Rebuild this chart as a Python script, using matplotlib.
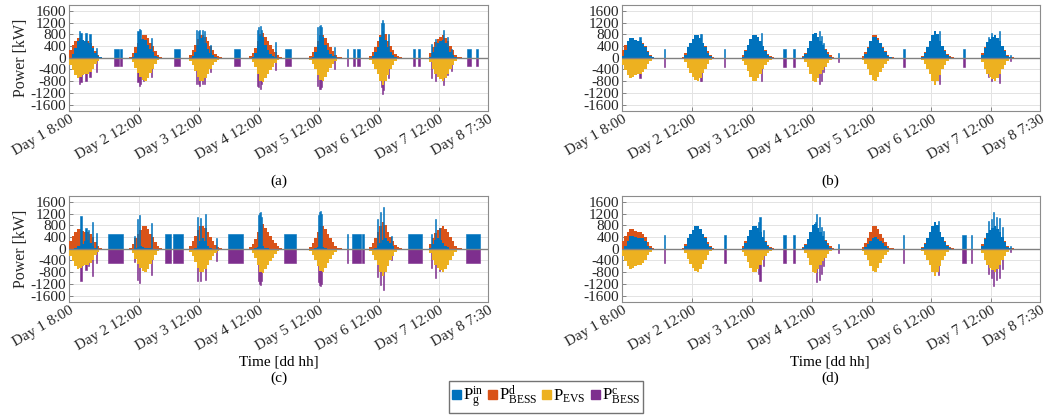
import numpy as np
import matplotlib.pyplot as plt
import matplotlib.transforms as mtransforms
from matplotlib.patches import Patch

plt.rcParams['font.family'] = 'Liberation Serif'
plt.rcParams['mathtext.fontset'] = 'custom'
plt.rcParams['mathtext.rm'] = 'Liberation Serif'
plt.rcParams['mathtext.it'] = 'Liberation Serif:italic'

C_GRID = '#0072BD'
C_BD = '#D95319'
C_EV = '#EDB120'
C_BC = '#7E2F8E'

# === DATA (kW, hourly blocks 8:00 ... 20:00 for each day) ===
hours = [8, 9, 10, 11, 12, 13, 14, 15, 16, 17, 18, 19, 20]

# EV demand, same in all cases
ev = [
    [-250, -420, -580, -680, -670, -600, -560, -570, -500, -400, -220, -100, -30],
    [-40, -150, -350, -520, -650, -760, -790, -680, -520, -400, -220, -90, -20],
    [-100, -250, -450, -650, -790, -780, -700, -560, -400, -250, -130, -60, -20],
    [-50, -150, -330, -560, -800, -840, -700, -560, -420, -300, -180, -80, -20],
    [-60, -200, -380, -580, -760, -780, -660, -500, -360, -220, -110, -40, -10],
    [-70, -200, -380, -560, -780, -920, -800, -580, -400, -250, -120, -50, -10],
    [-150, -380, -540, -650, -720, -780, -680, -560, -400, -250, -100, -30, -10],
]

# (a)
grid_a = [
    [0, 120, 330, 560, 640, 600, 560, 520, 440, 330, 150, 60, 10],
    [0, 30, 150, 350, 600, 650, 600, 450, 300, 200, 60, 20, 0],
    [0, 50, 200, 420, 680, 700, 500, 300, 150, 80, 20, 0, 0],
    [0, 30, 150, 400, 750, 700, 450, 250, 120, 60, 20, 0, 0],
    [0, 40, 200, 450, 750, 700, 450, 250, 120, 50, 10, 0, 0],
    [0, 50, 180, 380, 700, 850, 600, 350, 200, 100, 30, 0, 0],
    [30, 200, 380, 500, 560, 600, 500, 350, 200, 100, 20, 0, 0],
]
bessd_a = [
    [250, 300, 250, 120, 30, 0, 0, 50, 60, 70, 70, 40, 20],
    [40, 120, 200, 170, 50, 110, 190, 230, 220, 200, 160, 70, 20],
    [100, 200, 250, 230, 110, 80, 200, 260, 250, 170, 110, 60, 20],
    [50, 120, 180, 160, 50, 140, 250, 310, 300, 240, 160, 80, 20],
    [60, 160, 180, 130, 10, 80, 210, 250, 240, 170, 100, 40, 10],
    [70, 150, 200, 180, 80, 70, 200, 230, 200, 150, 90, 50, 10],
    [120, 180, 160, 150, 160, 180, 180, 210, 200, 150, 80, 30, 10],
]
spk_t_a = [12.3, 12.8, 14.8, 16.4, 19.1, 35.6, 36.1, 36.6, 37.7, 41.0,
           58.9, 59.6, 60.3, 61.3, 62.3, 64.5, 83.4, 83.9, 84.4, 84.9, 90.6,
           107.5, 108.0, 108.5, 109.0, 114.3, 132.8, 133.3, 133.8, 135.6,
           153.0, 154.6, 157.7, 159.3, 161.0]
spk_g_a = [920, 850, 840, 800, 330, 900, 970, 930, 620, 670,
           930, 900, 960, 940, 900, 450, 950, 1050, 1080, 950, 540,
           1050, 1100, 1130, 1050, 350, 1200, 1280, 1200, 800,
           480, 650, 950, 700, 300]
spk_c_a = [-900, -820, -780, -670, -500, -830, -950, -900, -800, -640,
           -880, -900, -950, -900, -880, -500, -950, -1000, -1060, -900, -420,
           -980, -1060, -1060, -1000, -400, -1000, -1240, -1100, -700,
           -680, -800, -920, -600, -460]
night_s_a = [26.0, 28.3, 50.0, 74.0, 94.4, 119.0, 121.7, 123.3, 145.7, 147.5, 167.0, 170.8]
night_e_a = [27.9, 29.3, 52.3, 76.3, 96.7, 119.5, 122.4, 124.2, 146.4, 148.4, 168.7, 171.7]
night_p_a = [290] * 12

# (b)
grid_b = [
    [60, 280, 580, 680, 670, 600, 560, 570, 460, 350, 180, 70, 10],
    [0, 110, 350, 520, 650, 760, 790, 680, 520, 380, 170, 50, 0],
    [40, 220, 450, 650, 790, 780, 700, 560, 400, 230, 90, 20, 0],
    [10, 130, 330, 560, 800, 840, 700, 560, 420, 280, 140, 40, 0],
    [0, 120, 330, 560, 700, 700, 620, 500, 340, 180, 60, 10, 0],
    [20, 170, 380, 560, 780, 920, 800, 580, 400, 230, 80, 20, 0],
    [80, 340, 540, 650, 720, 780, 680, 560, 400, 230, 70, 10, 0],
]
bessd_b = [
    [190, 140, 0, 0, 0, 0, 0, 0, 40, 50, 40, 30, 20],
    [40, 40, 0, 0, 0, 0, 0, 0, 0, 20, 50, 40, 20],
    [60, 30, 0, 0, 0, 0, 0, 0, 0, 20, 40, 40, 20],
    [40, 20, 0, 0, 0, 0, 0, 0, 0, 20, 40, 40, 20],
    [60, 80, 50, 20, 60, 80, 40, 0, 20, 40, 50, 30, 10],
    [50, 30, 0, 0, 0, 0, 0, 0, 0, 20, 40, 30, 10],
    [70, 40, 0, 0, 0, 0, 0, 0, 0, 20, 30, 20, 10],
]
spk_t_b = [15.2, 39.3, 39.9, 64.0, 87.1, 88.0, 88.9, 135.1, 154.8, 156.1, 157.4, 159.4]
spk_g_b = [720, 800, 820, 830, 900, 750, 500, 900, 700, 850, 760, 900]
spk_c_b = [-690, -780, -790, -810, -890, -780, -490, -890, -640, -780, -720, -870]
night_s_b = [24.7, 48.8, 72.5, 76.6, 94.5, 120.8, 144.6, 163.3]
night_e_b = [25.2, 49.3, 73.6, 77.3, 95.1, 121.3, 145.3, 163.9]
night_p_b = [300, 300, 300, 300, 150, 300, 300, 100]

# (c)
grid_c = [
    [0, 0, 30, 80, 100, 150, 250, 300, 200, 80, 30, 0, 0],
    [0, 0, 20, 50, 80, 50, 30, 30, 20, 0, 0, 0, 0],
    [0, 0, 30, 100, 250, 350, 250, 100, 30, 0, 0, 0, 0],
    [0, 0, 30, 60, 100, 80, 40, 20, 0, 0, 0, 0, 0],
    [0, 0, 30, 60, 80, 60, 30, 0, 0, 0, 0, 0, 0],
    [0, 0, 20, 80, 200, 300, 350, 250, 200, 100, 0, 0, 0],
    [20, 150, 300, 350, 300, 200, 100, 50, 0, 0, 0, 0, 0],
]
bessd_c = [
    [250, 420, 550, 600, 570, 450, 310, 270, 300, 320, 190, 100, 30],
    [40, 150, 330, 470, 570, 710, 760, 650, 500, 400, 220, 90, 20],
    [100, 250, 420, 550, 540, 430, 450, 460, 370, 250, 130, 60, 20],
    [50, 150, 300, 500, 700, 760, 660, 540, 420, 300, 180, 80, 20],
    [60, 200, 350, 520, 680, 720, 630, 500, 360, 220, 110, 40, 10],
    [70, 200, 360, 480, 580, 620, 450, 330, 200, 150, 120, 50, 10],
    [130, 230, 240, 300, 420, 580, 580, 510, 400, 250, 100, 30, 10],
]
spk_t_c = [12.8, 14.8, 15.7, 17.5, 19.1, 34.2, 35.5, 36.1, 41.1,
           59.3, 60.7, 62.7, 66.9, 83.6, 84.1, 84.6, 85.1,
           107.6, 108.1, 108.6, 109.1, 131.5, 132.4, 133.7, 136.8,
           153.0, 154.4, 156.0]
spk_g_c = [1120, 720, 640, 925, 550, 420, 1000, 1150, 870,
           1100, 1050, 1180, 380, 1150, 1230, 1250, 1100,
           1150, 1250, 1280, 1200, 1000, 1260, 1430, 450,
           500, 1000, 700]
spk_c_c = [-1090, -710, -600, -915, -500, -450, -1050, -1160, -880,
           -1100, -1100, -1080, -420, -1100, -1200, -1250, -1100,
           -1150, -1230, -1260, -1200, -950, -1250, -1400, -400,
           -650, -1000, -750]
night_s_c = [23.6, 46.3, 49.6, 71.6, 94.0, 119.0, 121.3, 125.3, 143.7, 166.7]
night_e_c = [29.6, 48.7, 53.6, 77.5, 98.8, 119.6, 124.9, 126.1, 149.3, 172.2]
night_p_c = [490] * 10

# (d)
grid_d = [
    [0, 80, 250, 450, 450, 400, 380, 380, 350, 250, 100, 40, 0],
    [0, 110, 350, 520, 650, 760, 790, 680, 520, 380, 170, 50, 0],
    [20, 200, 450, 650, 790, 780, 700, 560, 400, 230, 90, 20, 0],
    [10, 130, 330, 560, 800, 840, 700, 560, 420, 280, 140, 40, 0],
    [0, 50, 150, 280, 380, 400, 330, 250, 180, 100, 30, 0, 0],
    [20, 170, 380, 560, 780, 920, 800, 580, 400, 230, 80, 20, 0],
    [80, 340, 540, 650, 720, 780, 680, 560, 400, 230, 70, 10, 0],
]
bessd_d = [
    [250, 340, 330, 230, 220, 200, 180, 190, 150, 150, 120, 60, 30],
    [40, 40, 0, 0, 0, 0, 0, 0, 0, 20, 50, 40, 20],
    [80, 50, 0, 0, 0, 0, 0, 0, 0, 20, 40, 40, 20],
    [40, 20, 0, 0, 0, 0, 0, 0, 0, 20, 40, 40, 20],
    [60, 150, 230, 300, 380, 380, 330, 250, 180, 120, 80, 40, 10],
    [50, 30, 0, 0, 0, 0, 0, 0, 0, 20, 40, 30, 10],
    [70, 40, 0, 0, 0, 0, 0, 0, 0, 20, 30, 20, 10],
]
spk_t_d = [62.7, 63.3, 64.6, 85.4, 86.0, 87.1, 88.0, 88.9, 134.8,
           154.8, 156.1, 157.0, 158.1, 159.4, 160.5]
spk_g_d = [900, 1085, 650, 900, 1180, 1100, 750, 600, 930,
           950, 1000, 1260, 1100, 1050, 750]
spk_c_d = [-850, -1085, -600, -800, -1140, -1060, -850, -600, -900,
           -860, -1000, -1260, -1080, -1000, -700]
night_s_d = [24.7, 48.8, 72.5, 76.6, 94.5, 120.6, 144.4, 147.9, 163.3]
night_e_d = [25.2, 49.6, 73.6, 77.3, 95.0, 121.1, 145.7, 148.4, 163.8]
night_p_d = [480, 480, 480, 480, 150, 480, 480, 480, 100]

xtick_pos = [8, 36, 60, 84, 108, 132, 156, 175.5]
xtick_lab = ['Day 1 8:00', 'Day 2 12:00', 'Day 3 12:00', 'Day 4 12:00',
             'Day 5 12:00', 'Day 6 12:00', 'Day 7 12:00', 'Day 8 7:30']
ytick_pos = [-1600, -1200, -800, -400, 0, 400, 800, 1200, 1600]

# === FIGURE ===
fig = plt.figure(figsize=(10.51, 4.18), dpi=100)
W, H = 1051, 418
boxes = [(69, 5, 419, 105.5), (622, 5, 418, 105.5),
         (69, 196, 419, 105.5), (622, 196, 418, 105.5)]

panels = [
    (grid_a, bessd_a, spk_t_a, spk_g_a, spk_c_a, night_s_a, night_e_a, night_p_a),
    (grid_b, bessd_b, spk_t_b, spk_g_b, spk_c_b, night_s_b, night_e_b, night_p_b),
    (grid_c, bessd_c, spk_t_c, spk_g_c, spk_c_c, night_s_c, night_e_c, night_p_c),
    (grid_d, bessd_d, spk_t_d, spk_g_d, spk_c_d, night_s_d, night_e_d, night_p_d),
]


def bars(ax, x, y, color, z, **kw):
    ax.bar(x, y, color=color, edgecolor=color, linewidth=0.4, zorder=z, **kw)


for i, (box, data) in enumerate(zip(boxes, panels)):
    grid, bessd, st, sg, sc, ns, ne, npow = data
    x0, y0, w, h = box
    ax = fig.add_axes([x0 / W, 1 - (y0 + h) / H, w / W, h / H])

    # hourly blocks as filled stairs (one patch per day, no seams)
    for d in range(7):
        edges = [24 * d + hh for hh in hours] + [24 * d + hours[-1] + 1]
        ax.stairs(ev[d], edges, baseline=0, fill=True, color=C_EV, zorder=3)
        ax.stairs(grid[d], edges, baseline=0, fill=True, color=C_GRID, zorder=3)
        ax.stairs(np.add(grid[d], bessd[d]), edges, baseline=grid[d],
                  fill=True, color=C_BD, zorder=3)

    # BESS charging / grid spikes
    bars(ax, st, sc, C_BC, 2, width=0.45)
    bars(ax, st, sg, C_GRID, 4, width=0.45)

    # night charging blocks
    dur = np.array(ne) - np.array(ns)
    bars(ax, ns, npow, C_GRID, 3, width=dur, align='edge')
    bars(ax, ns, -np.array(npow), C_BC, 3, width=dur, align='edge')

    ax.axhline(0, color='0.5', lw=1.0, zorder=5)
    ax.set_xlim(8, 175.5)
    ax.set_ylim(-1800, 1800)
    ax.set_yticks(ytick_pos)
    ax.set_yticklabels([str(v) for v in ytick_pos])
    ax.set_xticks(xtick_pos)
    ax.set_xticklabels(xtick_lab, rotation=30, ha='right', rotation_mode='anchor')
    off = mtransforms.ScaledTranslation(6 / 100, 0, fig.dpi_scale_trans)
    for lab in ax.get_xticklabels():
        lab.set_transform(lab.get_transform() + off)
    ax.grid(True, color='#e3e3e3', lw=0.7, zorder=0)
    ax.set_axisbelow(True)
    ax.tick_params(direction='in', length=3, width=0.6, color='0.45',
                   labelsize=11, labelcolor='#262626', pad=2)
    for sp in ax.spines.values():
        sp.set_color('0.55')
        sp.set_linewidth(0.8)
    if i % 2 == 0:
        ax.set_ylabel('Power [kW]', fontsize=11.5, color='#262626', labelpad=1)

fig.text(279 / W, 1 - 181 / H, '(a)', ha='center', va='center', fontsize=11)
fig.text(830 / W, 1 - 181 / H, '(b)', ha='center', va='center', fontsize=11)
fig.text(279 / W, 1 - 362 / H, 'Time [dd hh]', ha='center', va='center', fontsize=11)
fig.text(830 / W, 1 - 362 / H, 'Time [dd hh]', ha='center', va='center', fontsize=11)
fig.text(279 / W, 1 - 378 / H, '(c)', ha='center', va='center', fontsize=11)
fig.text(830 / W, 1 - 378 / H, '(d)', ha='center', va='center', fontsize=11)

handles = [Patch(color=C_GRID), Patch(color=C_BD), Patch(color=C_EV), Patch(color=C_BC)]
labels = [r'$\mathrm{P_g^{in}}$', r'$\mathrm{P_{BESS}^{d}}$',
          r'$\mathrm{P_{EVS}}$', r'$\mathrm{P_{BESS}^{c}}$']
fig.legend(handles, labels, loc='center', bbox_to_anchor=(546 / W, 1 - 397 / H),
           ncol=4, fontsize=12, handlelength=0.55, handleheight=0.45,
           handletextpad=0.1, columnspacing=0.3, borderpad=0.2,
           fancybox=False, edgecolor='0.45', framealpha=1)

fig.savefig('out.png', dpi=100)
